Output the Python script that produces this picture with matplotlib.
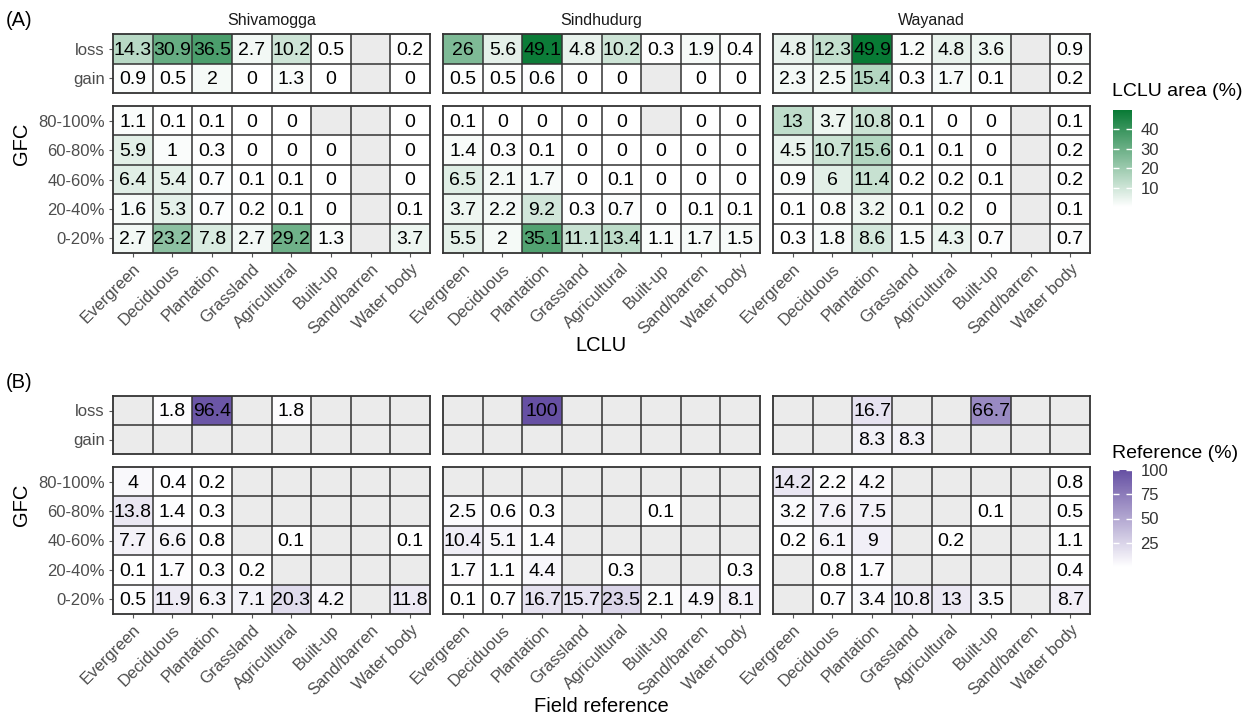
import numpy as np
import matplotlib
matplotlib.use("Agg")
import matplotlib.pyplot as plt
from matplotlib.colors import LinearSegmentedColormap, Normalize
import matplotlib.cm as cm

plt.rcParams['font.family'] = ['Liberation Sans', 'DejaVu Sans']

nan = np.nan

sitios = ['Shivamogga', 'Sindhudurg', 'Wayanad']
clases = ['Evergreen', 'Deciduous', 'Plantation', 'Grassland', 'Agricultural',
          'Built-up', 'Sand/barren', 'Water body']
filas_cambio = ['loss', 'gain']
filas_gfc = ['80-100%', '60-80%', '40-60%', '20-40%', '0-20%']

# (A) LCLU area (%)
lclu_shiv_cambio = [[14.3, 30.9, 36.5, 2.7, 10.2, 0.5, nan, 0.2],
                    [0.9, 0.5, 2, 0, 1.3, 0, nan, 0]]
lclu_shiv_gfc = [[1.1, 0.1, 0.1, 0, 0, nan, nan, 0],
                 [5.9, 1, 0.3, 0, 0, 0, nan, 0],
                 [6.4, 5.4, 0.7, 0.1, 0.1, 0, nan, 0],
                 [1.6, 5.3, 0.7, 0.2, 0.1, 0, nan, 0.1],
                 [2.7, 23.2, 7.8, 2.7, 29.2, 1.3, nan, 3.7]]
lclu_sind_cambio = [[26, 5.6, 49.1, 4.8, 10.2, 0.3, 1.9, 0.4],
                    [0.5, 0.5, 0.6, 0, 0, nan, 0, 0]]
lclu_sind_gfc = [[0.1, 0, 0, 0, 0, nan, 0, 0],
                 [1.4, 0.3, 0.1, 0, 0, 0, 0, 0],
                 [6.5, 2.1, 1.7, 0, 0.1, 0, 0, 0],
                 [3.7, 2.2, 9.2, 0.3, 0.7, 0, 0.1, 0.1],
                 [5.5, 2, 35.1, 11.1, 13.4, 1.1, 1.7, 1.5]]
lclu_waya_cambio = [[4.8, 12.3, 49.9, 1.2, 4.8, 3.6, nan, 0.9],
                    [2.3, 2.5, 15.4, 0.3, 1.7, 0.1, nan, 0.2]]
lclu_waya_gfc = [[13, 3.7, 10.8, 0.1, 0, 0, nan, 0.1],
                 [4.5, 10.7, 15.6, 0.1, 0.1, 0, nan, 0.2],
                 [0.9, 6, 11.4, 0.2, 0.2, 0.1, nan, 0.2],
                 [0.1, 0.8, 3.2, 0.1, 0.2, 0, nan, 0.1],
                 [0.3, 1.8, 8.6, 1.5, 4.3, 0.7, nan, 0.7]]

# (B) Reference (%)
ref_shiv_cambio = [[nan, 1.8, 96.4, nan, 1.8, nan, nan, nan],
                   [nan, nan, nan, nan, nan, nan, nan, nan]]
ref_shiv_gfc = [[4, 0.4, 0.2, nan, nan, nan, nan, nan],
                [13.8, 1.4, 0.3, nan, nan, nan, nan, nan],
                [7.7, 6.6, 0.8, nan, 0.1, nan, nan, 0.1],
                [0.1, 1.7, 0.3, 0.2, nan, nan, nan, nan],
                [0.5, 11.9, 6.3, 7.1, 20.3, 4.2, nan, 11.8]]
ref_sind_cambio = [[nan, nan, 100, nan, nan, nan, nan, nan],
                   [nan, nan, nan, nan, nan, nan, nan, nan]]
ref_sind_gfc = [[nan, nan, nan, nan, nan, nan, nan, nan],
                [2.5, 0.6, 0.3, nan, nan, 0.1, nan, nan],
                [10.4, 5.1, 1.4, nan, nan, nan, nan, nan],
                [1.7, 1.1, 4.4, nan, 0.3, nan, nan, 0.3],
                [0.1, 0.7, 16.7, 15.7, 23.5, 2.1, 4.9, 8.1]]
ref_waya_cambio = [[nan, nan, 16.7, nan, nan, 66.7, nan, nan],
                   [nan, nan, 8.3, 8.3, nan, nan, nan, nan]]
ref_waya_gfc = [[14.2, 2.2, 4.2, nan, nan, nan, nan, 0.8],
                [3.2, 7.6, 7.5, nan, nan, 0.1, nan, 0.5],
                [0.2, 6.1, 9, nan, 0.2, nan, nan, 1.1],
                [nan, 0.8, 1.7, nan, nan, nan, nan, 0.4],
                [nan, 0.7, 3.4, 10.8, 13, 3.5, nan, 8.7]]

W, H = 1252, 716
fig = plt.figure(figsize=(W / 100, H / 100), dpi=100)

borde = '#333333'
gris_na = '#ebebeb'
txt_gris = '#4d4d4d'

verde = LinearSegmentedColormap.from_list('verde', ['#ffffff', '#087a35'])
verde.set_bad(gris_na)
violeta = LinearSegmentedColormap.from_list('violeta', ['#ffffff', '#6650a3'])
violeta.set_bad(gris_na)


def ax_px(x0, y0, x1, y1):
    return fig.add_axes([x0 / W, 1 - y1 / H, (x1 - x0) / W, (y1 - y0) / H])


def heat(ax, datos, cmap, vmax, filas, ylab, xlab):
    arr = np.ma.masked_invalid(np.array(datos, dtype=float))
    n = len(filas)
    ax.set_facecolor(gris_na)
    ax.pcolormesh(np.arange(9), np.arange(n + 1), arr, cmap=cmap, vmin=0, vmax=vmax)
    ax.set_xlim(0, 8)
    ax.set_ylim(n, 0)
    for k in range(1, 8):
        ax.axvline(k, color=borde, lw=1.1)
    for k in range(1, n):
        ax.axhline(k, color=borde, lw=1.1)
    for s in ax.spines.values():
        s.set_color(borde)
        s.set_linewidth(1.3)
    for i in range(n):
        for j in range(8):
            v = arr[i, j]
            if v is not np.ma.masked:
                ax.text(j + 0.5, i + 0.55, f"{v:g}", ha='center', va='center',
                        fontsize=14, color='black')
    ax.set_xticks(np.arange(8) + 0.5)
    ax.set_yticks(np.arange(n) + 0.5)
    ax.tick_params(length=3, color='#555555', labelcolor=txt_gris, pad=3)
    ax.tick_params(axis='y', labelsize=12)
    ax.tick_params(axis='x', labelsize=12)
    if xlab:
        ax.set_xticklabels(clases, rotation=45, ha='right', rotation_mode='anchor')
    else:
        ax.set_xticklabels([])
        ax.tick_params(axis='x', length=0)
    if ylab:
        ax.set_yticklabels(filas)
    else:
        ax.set_yticklabels([])
        ax.tick_params(axis='y', length=0)


x0s = [113, 443, 773]
ancho = 317

paneles = [
    ([lclu_shiv_cambio, lclu_sind_cambio, lclu_waya_cambio],
     [lclu_shiv_gfc, lclu_sind_gfc, lclu_waya_gfc],
     verde, 50, (34, 93), (106, 253)),
    ([ref_shiv_cambio, ref_sind_cambio, ref_waya_cambio],
     [ref_shiv_gfc, ref_sind_gfc, ref_waya_gfc],
     violeta, 100, (396, 454), (467, 614)),
]

for p, (cambio, gfc, cmap, vmax, (ta, tb), (ba, bb)) in enumerate(paneles):
    for f in range(3):
        x0 = x0s[f]
        ax1 = ax_px(x0, ta, x0 + ancho, tb)
        heat(ax1, cambio[f], cmap, vmax, filas_cambio, f == 0, False)
        ax2 = ax_px(x0, ba, x0 + ancho, bb)
        heat(ax2, gfc[f], cmap, vmax, filas_gfc, f == 0, True)
        if p == 0:
            fig.text((x0 + ancho / 2) / W, 1 - 21 / H, sitios[f], ha='center', va='center',
                     fontsize=11.5, color='#1a1a1a')
    yc = (ta + bb) / 2
    fig.text(22 / W, 1 - yc / H, 'GFC', rotation=90, ha='center', va='center', fontsize=14.5)

fig.text(6 / W, 1 - 21 / H, '(A)', ha='left', va='center', fontsize=14.5)
fig.text(6 / W, 1 - 383 / H, '(B)', ha='left', va='center', fontsize=14.5)
fig.text(601 / W, 1 - 345 / H, 'LCLU', ha='center', va='center', fontsize=14.5)
fig.text(601 / W, 1 - 706 / H, 'Field reference', ha='center', va='center', fontsize=14.5)

# leyendas
leyendas = [('LCLU area (%)', verde, 50, [10, 20, 30, 40], 92, 110, 207),
            ('Reference (%)', violeta, 100, [25, 50, 75, 100], 454, 470, 567)]
for titulo, cmap, vmax, ticks, yt, c0, c1 in leyendas:
    fig.text(1112 / W, 1 - yt / H, titulo, ha='left', va='center', fontsize=14)
    cax = ax_px(1113, c0, 1132, c1)
    sm = cm.ScalarMappable(norm=Normalize(0, vmax), cmap=cmap)
    cb = fig.colorbar(sm, cax=cax)
    cb.outline.set_visible(False)
    cb.set_ticks(ticks)
    cax.tick_params(left=True, right=True, labelleft=False, labelright=True,
                    direction='in', length=4, width=1, color='white',
                    labelsize=12, labelcolor='#333333', pad=6)

fig.savefig('out.png', dpi=100)
